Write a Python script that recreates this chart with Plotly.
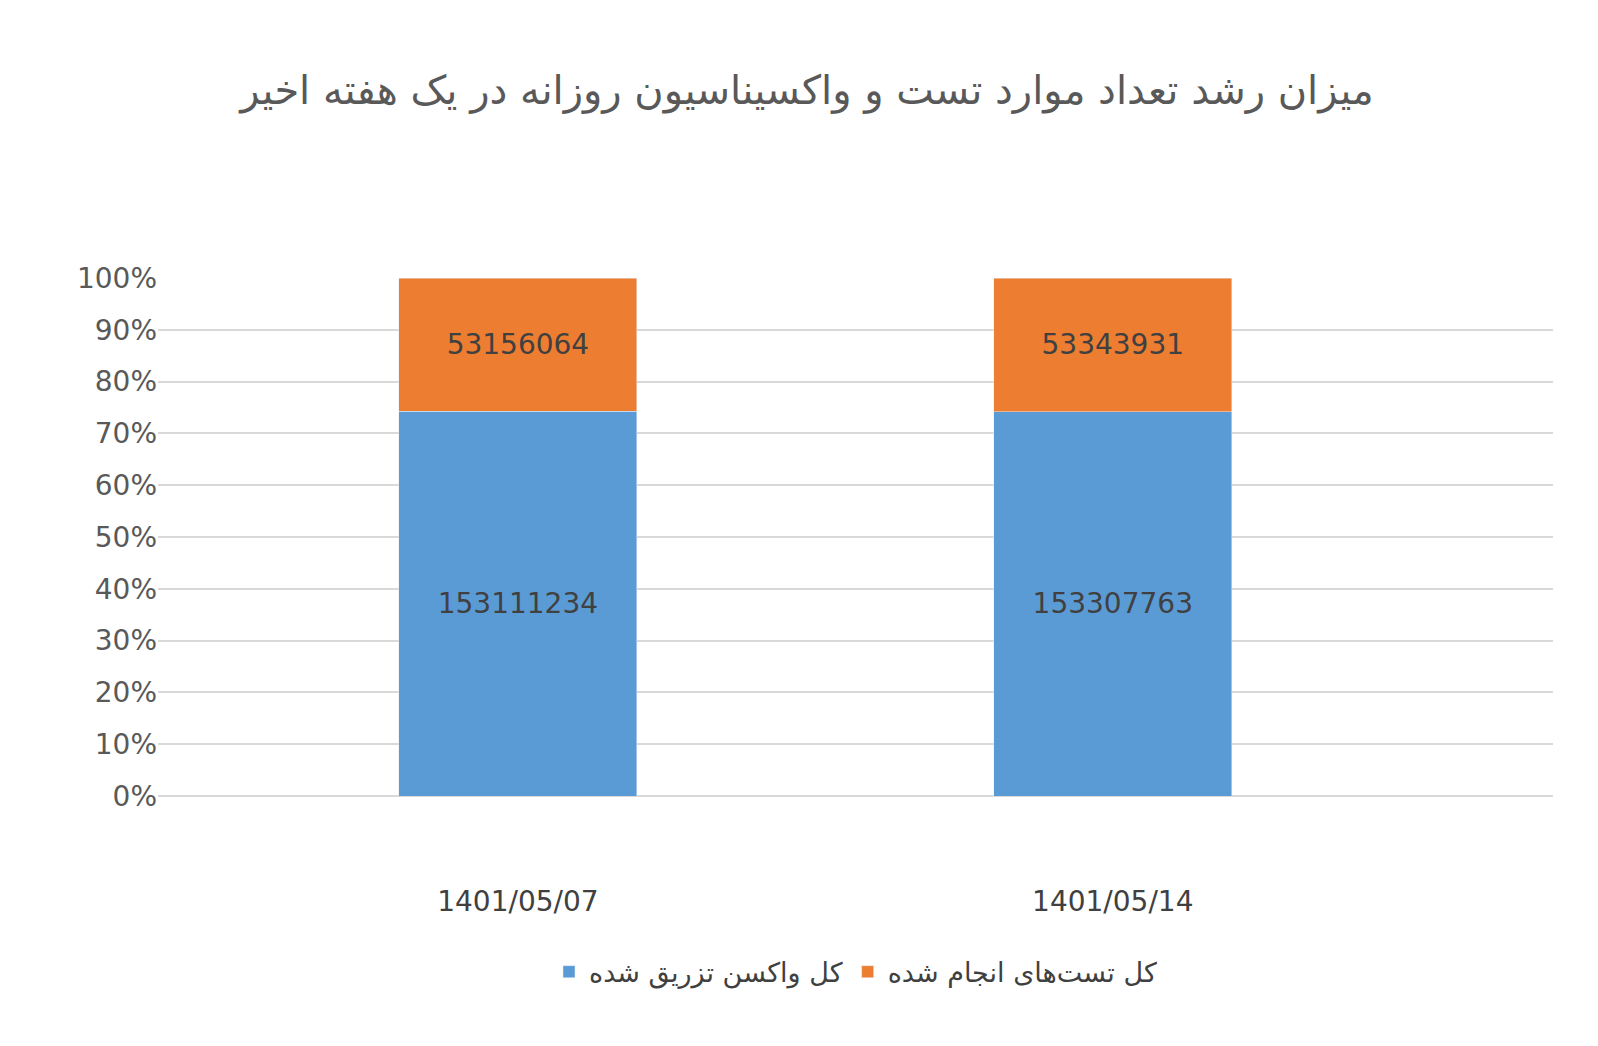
import plotly.graph_objects as go

dates = ["1401/05/07", "1401/05/14"]
vaccines = [153111234, 153307763]
tests = [53156064, 53343931]
series_names = ["کل واکسن تزریق شده", "کل تست‌های انجام شده"]
title = "میزان رشد تعداد موارد تست و واکسیناسیون روزانه در یک هفته اخیر"

fig = go.Figure()
fig.add_bar(x=dates, y=vaccines, name=series_names[0], marker_color="#5B9BD5",
            text=[str(v) for v in vaccines], textposition="inside", insidetextanchor="middle",
            textfont=dict(size=28, color="#404040"))
fig.add_bar(x=dates, y=tests, name=series_names[1], marker_color="#ED7D31",
            text=[str(v) for v in tests], textposition="inside", insidetextanchor="middle",
            textfont=dict(size=28, color="#404040"))

fig.update_layout(
    barmode="stack", barnorm="percent", bargap=0.6,
    width=1598, height=1046,
    margin=dict(l=150, r=53, t=270, b=258),
    paper_bgcolor="white", plot_bgcolor="white",
    font=dict(family="DejaVu Sans", color="#595959"),
    title=dict(text=title, x=0.5, xanchor="center", y=0.935, font=dict(size=40, color="#595959")),
    xaxis=dict(range=[-0.605, 1.74], tickfont=dict(size=28, color="#404040"), ticklen=0,
               ticks="outside", tickcolor="white", ticklabelstandoff=80, showline=False),
    yaxis=dict(range=[0, 100], dtick=10, ticksuffix="%", showgrid=True, gridcolor="#D9D9D9",
               gridwidth=2, tickfont=dict(size=28, color="#595959"), zeroline=True,
               zerolinecolor="#D9D9D9", zerolinewidth=2),
    legend=dict(orientation="h", x=0.5, xanchor="center", y=-0.34, yanchor="middle",
                font=dict(size=27, color="#404040"), traceorder="normal"),
    showlegend=True,
)
fig.write_html("out.html")
